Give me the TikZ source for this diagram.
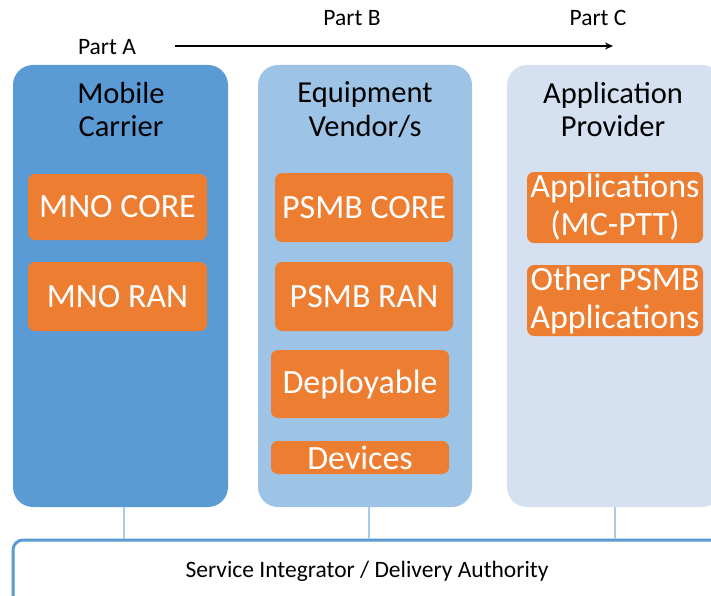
\documentclass[tikz,border=0pt]{standalone}
\usepackage{fontspec}
\setmainfont{Carlito}
\usetikzlibrary{arrows.meta,calc}
\definecolor{cA}{HTML}{5B9BD5}
\definecolor{cB}{HTML}{9DC3E6}
\definecolor{cC}{HTML}{D5E0F1}
\definecolor{org}{HTML}{ED7D31}
\definecolor{lnk}{HTML}{A9CBEA}
\begin{document}
\begin{tikzpicture}[x=1pt,y=-1pt,
  colbox/.style={draw=none, rounded corners=20pt, minimum height=442pt, inner sep=0pt},
  ttl/.style={align=center, font=\fontsize{30.5}{33.5}\selectfont, text=black},
  obox/.style={fill=org, rounded corners=7pt, text=white, align=center, inner sep=0pt,
    font=\fontsize{34}{38}\selectfont},
  part/.style={font=\fontsize{23.5}{26}\selectfont, text=black, anchor=base},
  link/.style={draw=lnk, line width=1.1pt}]
\useasboundingbox (0,0) rectangle (711,596);
\clip (0,0) rectangle (711,596);
% columns
\node[colbox, fill=cA, minimum width=215pt] (col1) at (120.5,286) {};
\node[colbox, fill=cB, minimum width=214pt] (col2) at (365,286) {};
\node[colbox, fill=cC, minimum width=215pt] (col3) at (614.5,286) {};
% titles
\node[ttl] (t1) at (121,109.5) {Mobile\\Carrier};
\node[ttl] (t2) at (365,109.5) {Equipment\\Vendor/s};
\node[ttl] (t3) at (613,109.5) {Application\\Provider};
% orange boxes
\node[obox, minimum width=179pt, minimum height=66pt] (mnocore) at (117.5,207) {MNO CORE};
\node[obox, minimum width=179pt, minimum height=69pt] (mnoran) at (117.5,296.5) {MNO RAN};
\node[obox, minimum width=178pt, minimum height=69pt] (psmbcore) at (364,207.5) {PSMB CORE};
\node[obox, minimum width=178pt, minimum height=69pt] (psmbran) at (364,296.5) {PSMB RAN};
\node[obox, minimum width=178pt, minimum height=68pt] (depl) at (360,384) {Deployable};
\node[obox, minimum width=178pt, minimum height=33pt] (dev) at (360,457.5) {Devices};
\node[obox, minimum width=176pt, minimum height=71pt] (apps) at (615,207.5) {Applications\\(MC-PTT)};
\node[obox, minimum width=176pt, minimum height=71pt] (other) at (615,300.5) {Other PSMB\\Applications};
% bottom box
\node[draw=cA, line width=3pt, fill=white, rounded corners=10pt, minimum width=727pt,
  minimum height=100pt, inner sep=0pt] (sib) at (376.5,590) {};
\node[part] (sibtxt) at (367,577) {Service Integrator / Delivery Authority};
% links
\draw[link] ([xshift=3.5pt]col1.south) -- ([xshift=3.5pt]col1.south |- sib.north);
\draw[link] ([xshift=4pt]col2.south) -- ([xshift=4pt]col2.south |- sib.north);
\draw[link] ([xshift=0.5pt]col3.south) -- ([xshift=0.5pt]col3.south |- sib.north);
% parts and arrow
\node[part] (pa) at (107,55) {Part A};
\node[part] (pb) at (352,26) {Part B};
\node[part] (pc) at (598,26) {Part C};
\coordinate (as) at (175,46);
\coordinate (ae) at (613,46);
\draw[line width=1.3pt, -{Stealth[length=8pt,width=7pt]}] (as) -- (ae);
\end{tikzpicture}
\end{document}
